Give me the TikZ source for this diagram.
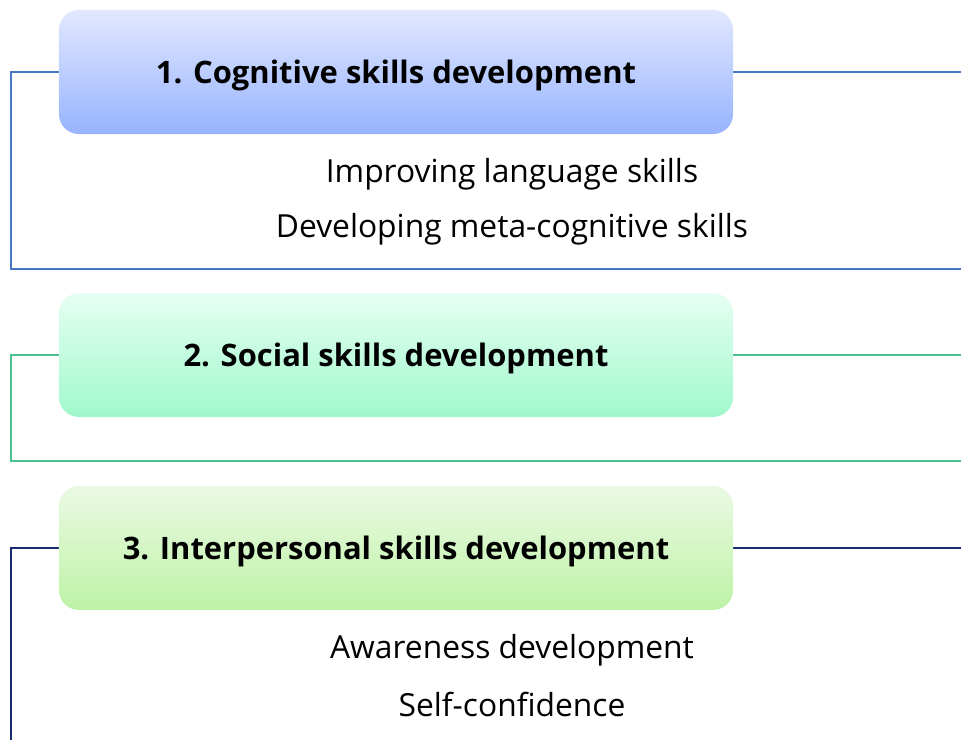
\documentclass[tikz,border=0pt]{standalone}
\usepackage{fontspec}
\setmainfont{Open Sans}
\begin{document}
\begin{tikzpicture}[x=0.025cm,y=-0.025cm,
    head/.style={rounded corners=0.5cm,minimum width=16.85cm,minimum height=3.1cm,
        inner sep=0pt,text depth=0pt,font=\fontsize{22}{26}\selectfont\bfseries},
    item/.style={inner sep=0pt,font=\fontsize{22.6}{27}\selectfont},
    blueline/.style={draw={rgb,255:red,74;green,118;blue,198},line width=1.4pt},
    greenline/.style={draw={rgb,255:red,75;green,190;blue,144},line width=1.4pt},
    navyline/.style={draw={rgb,255:red,22;green,44;blue,110},line width=1.4pt}]
        \useasboundingbox (0,0) rectangle (961,740);

        \coordinate (l1) at (11,269);
        \coordinate (r1) at (961,269);
        \coordinate (e1) at (961,72);
        \coordinate (l2) at (11,461);
        \coordinate (r2) at (961,461);
        \coordinate (e2) at (961,355);
        \coordinate (l3) at (11,740);
        \coordinate (e3) at (961,548);

        \draw[blueline] (396,72) ++(-337,0) -| (l1) -- (r1);
        \draw[blueline] (733,72) -- (e1);
        \draw[greenline] (396,355) ++(-337,0) -| (l2) -- (r2);
        \draw[greenline] (733,355) -- (e2);
        \draw[navyline] (396,548) ++(-337,0) -| (l3);
        \draw[navyline] (733,548) -- (e3);

        \node[head,top color={rgb,255:red,225;green,232;blue,255},
            bottom color={rgb,255:red,152;green,180;blue,255}] (b1) at (396,72) {1. Cognitive skills development};
        \node[head,top color={rgb,255:red,230;green,255;blue,243},
            bottom color={rgb,255:red,160;green,248;blue,204}] (b2) at (396,355) {2. Social skills development};
        \node[head,top color={rgb,255:red,235;green,249;blue,228},
            bottom color={rgb,255:red,190;green,243;blue,166}] (b3) at (396,548) {3. Interpersonal skills development};

        \node[item] (i1) at (512,174) {Improving language skills};
        \node[item] (i2) at (512,229) {Developing meta-cognitive skills};
        \node[item] (i3) at (512,650) {Awareness development};
        \node[item] (i4) at (512,704) {Self-confidence};
    \end{tikzpicture}
\end{document}
